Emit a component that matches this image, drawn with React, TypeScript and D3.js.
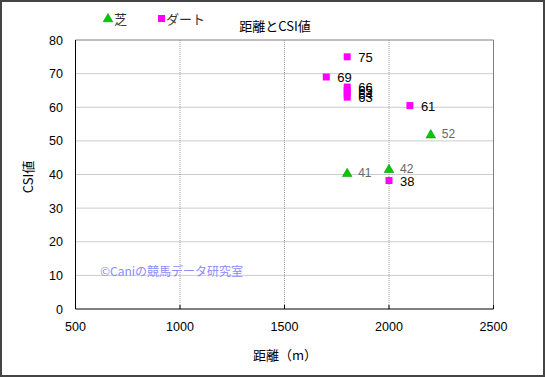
import React from "react";
import * as d3 from "d3";

const turfDist = [1800, 2000, 2200];
const turfCsi = [40.5, 41.7, 52];
const dirtDist = [1800, 1700, 1800, 1800, 1800, 1800, 2100, 2000];
const dirtCsi = [75, 69, 66, 65, 64, 63, 60.5, 38.2];
const xTicks = [500, 1000, 1500, 2000, 2500];
const yTicks = [0, 10, 20, 30, 40, 50, 60, 70, 80];

const W = 545, H = 377;
const M = { l: 75.5, r: 493.5, t: 40, b: 309 };
const FONT = "'Liberation Sans', 'Noto Sans CJK JP', sans-serif";
const JP = "'Noto Sans CJK JP', 'Liberation Sans', sans-serif";

export default function App() {
  const x = d3.scaleLinear().domain([500, 2500]).range([M.l, M.r]);
  const y = d3.scaleLinear().domain([0, 80]).range([M.b, M.t]);
  const tri = d3.symbol().type(d3.symbolTriangle).size(40)();
  return (
    <svg width={W} height={H} style={{ position: "absolute", left: 0, top: 0, background: "#fff" }}>
      <rect x={1} y={1} width={W - 2} height={H - 2} fill="#fff" stroke="#444" strokeWidth={2} />
      {xTicks.slice(1, -1).map((t) => (
        <line key={"gx" + t} x1={x(t)} x2={x(t)} y1={M.t} y2={M.b} stroke="#999" strokeDasharray="1,1" />
      ))}
      {yTicks.slice(1, -1).map((t) => (
        <line key={"gy" + t} x1={M.l} x2={M.r} y1={y(t)} y2={y(t)} stroke="#999" strokeDasharray="1,1" />
      ))}
      <line x1={M.l} x2={M.r} y1={M.t} y2={M.t} stroke="#808080" />
      <line x1={M.r} x2={M.r} y1={M.t} y2={M.b} stroke="#808080" />
      <line x1={M.l} x2={M.l} y1={M.t} y2={M.b} stroke="#000" />
      <line x1={M.l} x2={M.r} y1={M.b} y2={M.b} stroke="#000" />
      {xTicks.map((t) => (
        <g key={"xt" + t}>
          <line x1={x(t)} x2={x(t)} y1={M.b} y2={M.b - 4} stroke="#000" />
          <text x={x(t)} y={331} textAnchor="middle" fontSize={12.5} fontFamily={FONT} fill="#000">{t}</text>
        </g>
      ))}
      {yTicks.map((t) => (
        <text key={"yt" + t} x={63} y={y(t) + 4.5} textAnchor="end" fontSize={12.5} fontFamily={FONT} fill="#000">{t}</text>
      ))}
      <text x={275} y={31} textAnchor="middle" fontSize={13} fontFamily={JP} fill="#000">距離とCSI値</text>
      <text x={285} y={360} textAnchor="middle" fontSize={13} fontFamily={JP} fill="#000">距離（m）</text>
      <text transform={`translate(33,177) rotate(-90)`} textAnchor="middle" fontSize={13} fontFamily={JP} fill="#000">CSI値</text>
      <path d={tri} transform="translate(108,19)" fill="#00cc00" stroke="#008000" strokeWidth={0.5} />
      <text x={114} y={24} fontSize={13} fontFamily={JP} fill="#333">芝</text>
      <rect x={158} y={15} width={7} height={7} fill="#ff00ff" />
      <text x={166} y={24} fontSize={13} fontFamily={JP} fill="#333">ダート</text>
      <text x={100} y={276} fontSize={12} fontFamily={JP} fill="#8c8cff">©Caniの競馬データ研究室</text>
      {dirtDist.map((d, i) => (
        <g key={"d" + i}>
          <rect x={x(d) - 3.5} y={y(dirtCsi[i]) - 3.5} width={7} height={7} fill="#ff00ff" />
          <text x={x(d) + 11} y={y(dirtCsi[i]) + 5} fontSize={13} fontFamily={FONT} fill="#000">{Math.round(dirtCsi[i])}</text>
        </g>
      ))}
      {turfDist.map((d, i) => (
        <g key={"t" + i}>
          <path d={tri} transform={`translate(${x(d)},${y(turfCsi[i]) + 1})`} fill="#00cc00" stroke="#008000" strokeWidth={0.5} />
          <text x={x(d) + 11} y={y(turfCsi[i]) + 4} fontSize={12} fontFamily={FONT} fill="#666">{Math.round(turfCsi[i])}</text>
        </g>
      ))}
    </svg>
  );
}
